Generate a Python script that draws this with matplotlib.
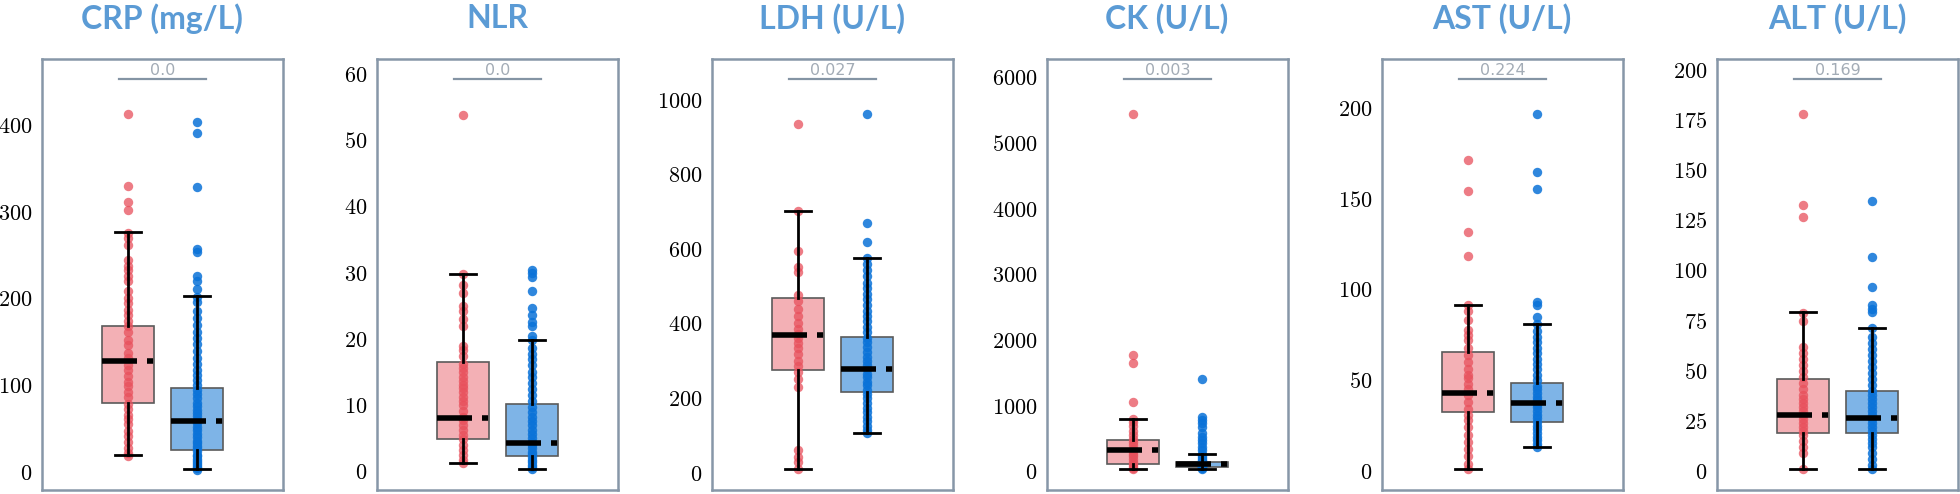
import matplotlib
matplotlib.use('Agg')
import matplotlib.pyplot as plt
import matplotlib.transforms as mtransforms

plt.rcParams['axes.formatter.use_mathtext'] = True

# panel titles, p-values, ticks
titles = ['CRP (mg/L)', 'NLR', 'LDH (U/L)', 'CK (U/L)', 'AST (U/L)', 'ALT (U/L)']
pvals = ['0.0', '0.0', '0.027', '0.003', '0.224', '0.169']
yticks = [
    [0, 100, 200, 300, 400],
    [0, 10, 20, 30, 40, 50, 60],
    [0, 200, 400, 600, 800, 1000],
    [0, 1000, 2000, 3000, 4000, 5000, 6000],
    [0, 50, 100, 150, 200],
    [0, 25, 50, 75, 100, 125, 150, 175, 200],
]
ylims = [(-21, 477), (-2.8, 62.3), (-46, 1110), (-279, 6280), (-10.5, 227.2), (-9.5, 205.5)]

# box stats: q1, median, q3, lower whisker, upper whisker
red_q1 = [79.4, 4.9, 277, 112, 32.4, 18.8]
red_med = [127.5, 8.05, 369, 330, 42.8, 27.9]
red_q3 = [168, 16.5, 470, 482, 65.8, 45.9]
red_lo = [19.7, 1.3, 9, 36, 0.9, 0.8]
red_hi = [276.7, 29.8, 703, 797, 91.5, 79.1]

blue_q1 = [25.4, 2.4, 216, 76, 27.2, 19.1]
blue_med = [59.3, 4.3, 278, 117, 37.3, 26.3]
blue_q3 = [96.8, 10.2, 365, 152, 48.7, 39.9]
blue_lo = [3.1, 0.35, 106, 41, 13, 0.8]
blue_hi = [202.7, 19.9, 577, 265, 81, 71.2]

# individual points (estimated)
red_pts = [
    [18, 22, 28, 35, 41, 47, 55, 61, 66, 73, 78, 86, 92, 99, 104, 111, 118, 124, 131, 137, 146, 152,
     161, 168, 174, 181, 187, 195, 201, 209, 220, 226, 233, 238, 245, 262, 270, 276, 302, 312, 330, 413],
    [1.3, 1.8, 2.5, 3.2, 4.0, 4.9, 5.5, 6.2, 7.0, 7.8, 8.3, 9.1, 10.0, 10.6, 11.2, 12.0, 12.6, 13.1,
     13.7, 14.3, 15.0, 15.6, 16.2, 17.5, 18.3, 19.0, 22.0, 23.1, 24.2, 25.0, 27.0, 28.1, 29.8, 53.9],
    [9, 30, 42, 60, 230, 251, 270, 286, 301, 318, 336, 349, 362, 372, 386, 401, 421, 440, 462, 478,
     540, 552, 596, 703, 935],
    [36, 61, 90, 121, 152, 190, 231, 270, 312, 350, 402, 451, 500, 562, 620, 701, 760, 797, 1056, 1659,
     1776, 5438],
    [0.9, 4, 8, 12, 16, 20, 24, 28, 31, 34, 38, 42, 45, 48, 51, 53, 56, 60, 64, 68, 72, 75, 78, 83, 88,
     91.5, 118.7, 131.6, 154.6, 171.5],
    [0.8, 9, 12, 15, 18, 20, 22, 24, 26, 28, 30, 32, 34, 36, 38, 41, 44, 47, 50, 53, 56, 59, 62, 75, 79,
     126.5, 132.7, 177.9],
]
blue_pts = [
    [2, 4, 6, 8, 10, 12, 15, 18, 20, 24, 27, 30, 33, 36, 40, 44, 48, 52, 56, 60, 64, 68, 72, 76, 80, 85,
     90, 95, 100, 106, 112, 118, 125, 132, 140, 148, 155, 162, 170, 178, 186, 196, 202, 211, 220, 226,
     254, 258, 329, 391, 404],
    [0.3, 0.6, 1.0, 1.4, 1.8, 2.2, 2.6, 3.0, 3.5, 4.0, 4.4, 5.0, 5.6, 6.2, 7.0, 7.6, 8.3, 9.0, 9.8, 10.6,
     11.5, 12.4, 13.3, 14.2, 15.0, 16.1, 17.0, 17.8, 18.6, 19.9, 20.5, 22.0, 22.6, 23.7, 24.7, 27.2,
     29.4, 30.0, 30.4],
    [106, 115, 125, 138, 150, 162, 175, 188, 200, 212, 222, 235, 245, 256, 265, 278, 290, 300, 312, 325,
     338, 350, 362, 378, 392, 408, 420, 435, 450, 466, 480, 495, 510, 528, 545, 560, 577, 618, 671, 962],
    [41, 55, 65, 75, 85, 95, 105, 115, 125, 135, 150, 165, 185, 210, 240, 265, 330, 380, 430, 482, 530,
     584, 685, 740, 786, 837, 1410],
    [13, 15, 17, 19, 21, 23, 25, 27, 29, 31, 33, 35, 37, 39, 41, 43, 45, 47, 50, 53, 56, 59, 62, 65, 68,
     71, 74, 77, 81, 85, 91.5, 93, 155.5, 164.7, 196.7],
    [0.8, 3, 6, 9, 12, 14, 16, 18, 20, 22, 24, 26, 28, 30, 32, 34, 36, 38, 40, 43, 46, 49, 52, 55, 58,
     61, 64, 67, 71.2, 79.4, 81, 82.7, 91.9, 106.9, 134.8],
]

red_face, red_dot = '#F3B0B5', '#E8505C'
blue_face, blue_dot = '#7EB4E7', '#0A72D8'
title_col = '#5B9BD5'
frame_col = '#8797A8'

W, H = 1960, 494
fig = plt.figure(figsize=(W / 100, H / 100), dpi=100)

for i in range(6):
    left = 42 + i * 335
    ax = fig.add_axes([left / W, 4 / H, 241 / W, 431 / H])

    stats = [
        dict(q1=red_q1[i], med=red_med[i], q3=red_q3[i], whislo=red_lo[i], whishi=red_hi[i], fliers=[]),
        dict(q1=blue_q1[i], med=blue_med[i], q3=blue_q3[i], whislo=blue_lo[i], whishi=blue_hi[i], fliers=[]),
    ]
    bp = ax.bxp(stats, positions=[0, 1], widths=0.765, patch_artist=True, showfliers=False,
                capwidths=0.38,
                boxprops=dict(edgecolor='#5a5a5a', linewidth=1.2),
                whiskerprops=dict(color='black', linewidth=2, zorder=4),
                capprops=dict(color='black', linewidth=2, zorder=4),
                medianprops=dict(color='black', linewidth=4, zorder=5,
                                 linestyle=(0, (6.3, 1.8, 1.1, 6)), dash_capstyle='butt'))
    bp['boxes'][0].set_facecolor(red_face)
    bp['boxes'][1].set_facecolor(blue_face)
    for b in bp['boxes']:
        b.set_zorder(2)

    # strip of points, no jitter
    ax.scatter([0] * len(red_pts[i]), red_pts[i], s=46, color=red_dot, alpha=0.75, lw=0, zorder=3)
    ax.scatter([1] * len(blue_pts[i]), blue_pts[i], s=46, color=blue_dot, alpha=0.85, lw=0, zorder=3)

    ax.set_xlim(-1.265, 2.265)
    ax.set_ylim(*ylims[i])
    ax.set_xticks([])
    ax.set_yticks(yticks[i])
    ax.tick_params(axis='y', length=0, pad=7)
    for lab in ax.get_yticklabels():
        lab.set_fontfamily('cmr10')
        lab.set_fontsize(16)
    for s in ax.spines.values():
        s.set_color(frame_col)
        s.set_linewidth(1.8)

    # p-value bracket
    tr = mtransforms.blended_transform_factory(ax.transData, ax.transAxes)
    ax.plot([-0.13, 1.13], [0.953, 0.953], color='#8494A4', lw=1.6, transform=tr, clip_on=False)
    ax.text(0.5, 0.957, pvals[i], transform=tr, ha='center', va='bottom', fontsize=11.5,
            color='#A3ACB6')

    fig.text((left + 120) / W, 1 - 19 / H, titles[i], ha='center', va='center',
             fontsize=23, fontweight='bold', family='Lato', color=title_col)

fig.savefig('out.png', dpi=100)
